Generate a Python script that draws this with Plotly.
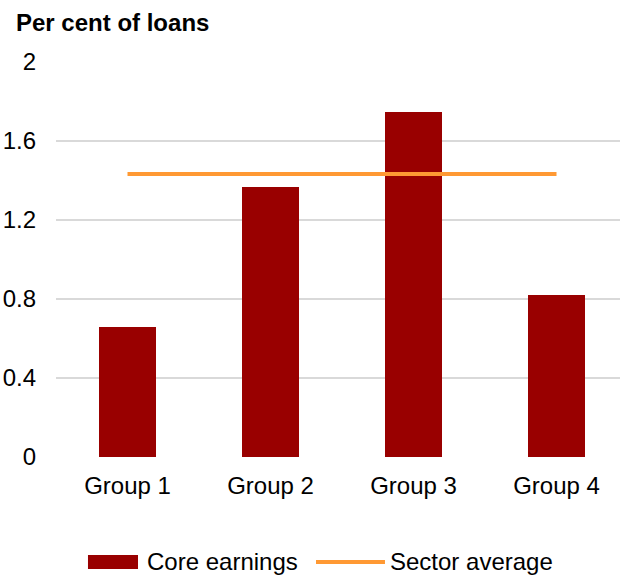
import plotly.graph_objects as go

# Chart data
groups = ["Group 1", "Group 2", "Group 3", "Group 4"]
core_earnings = [0.657, 1.366, 1.748, 0.819]
sector_average = [1.433, 1.433, 1.433, 1.433]
y_ticks = [0, 0.4, 0.8, 1.2, 1.6, 2]
y_tick_labels = ["0", "0.4", "0.8", "1.2", "1.6", "2"]

BAR_COLOR = "#990000"
LINE_COLOR = "#FF9933"
GRID_COLOR = "#D9D9D9"
FONT = "Liberation Sans, Arial, sans-serif"
FS = 24

x_pos = list(range(len(groups)))

fig = go.Figure()
fig.add_trace(go.Bar(
    x=x_pos, y=core_earnings, name="Core earnings",
    marker=dict(color=BAR_COLOR, line=dict(width=0)),
    width=0.40, showlegend=False,
))
fig.add_trace(go.Scatter(
    x=x_pos, y=sector_average, name="Sector average", mode="lines",
    line=dict(color=LINE_COLOR, width=4), showlegend=False,
))

# Legend drawn as shapes + labels beneath the plot
fig.add_shape(type="rect", xref="paper", yref="paper",
              x0=0.0567, x1=0.1454, y0=-0.2835, y1=-0.248,
              fillcolor=BAR_COLOR, line=dict(width=0))
fig.add_annotation(text="Core earnings", xref="paper", yref="paper",
                   x=0.1578, y=-0.2658, xanchor="left", yanchor="middle",
                   showarrow=False, font=dict(size=FS, color="#000000", family=FONT))
fig.add_shape(type="line", xref="paper", yref="paper",
              x0=0.461, x1=0.5833, y0=-0.2658, y1=-0.2658,
              line=dict(color=LINE_COLOR, width=4))
fig.add_annotation(text="Sector average", xref="paper", yref="paper",
                   x=0.5887, y=-0.2658, xanchor="left", yanchor="middle",
                   showarrow=False, font=dict(size=FS, color="#000000", family=FONT))

# Axis title placed above the y axis
fig.add_annotation(text="<b>Per cent of loans</b>", xref="paper", yref="paper",
                   x=-0.0745, y=1.101, xanchor="left", yanchor="middle",
                   showarrow=False, font=dict(size=FS, color="#000000", family=FONT))

fig.update_layout(
    width=620, height=576,
    margin=dict(l=56, r=0, t=62, b=119),
    paper_bgcolor="white", plot_bgcolor="white",
    font=dict(family=FONT, size=FS, color="#000000"),
    bargap=0,
)
fig.update_xaxes(
    range=[-0.5, 3.444], tickvals=x_pos, ticktext=groups,
    showgrid=False, zeroline=False, showline=False, ticks="",
    ticklabelstandoff=12,
)
fig.update_yaxes(
    range=[0, 2], tickvals=y_ticks, ticktext=y_tick_labels,
    showgrid=True, gridcolor=GRID_COLOR, gridwidth=2,
    zeroline=False, showline=False, ticks="",
    ticklabelstandoff=19,
)

fig.write_html("out.html")
